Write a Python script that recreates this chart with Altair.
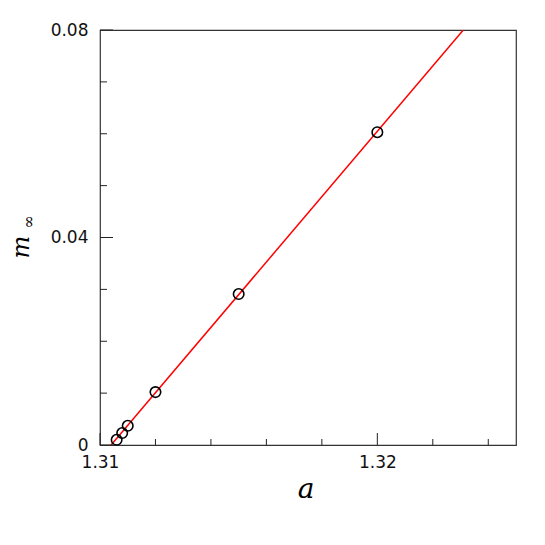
import altair as alt
import pandas as pd

# data
a_pts = [1.3106, 1.3108, 1.3110, 1.3120, 1.3150, 1.3200]
m_pts = [0.0010, 0.0023, 0.0037, 0.0102, 0.0291, 0.0603]
fit_a = [1.3104, 1.3231]
fit_m = [0.0, 0.08]
x_major = [1.31, 1.32]
x_minor = [1.312, 1.314, 1.316, 1.318, 1.322, 1.324]
y_major = [0.0, 0.04, 0.08]
y_minor = [0.01, 0.02, 0.03, 0.05, 0.06, 0.07]

pts = pd.DataFrame({"a": a_pts, "m": m_pts})
fit = pd.DataFrame({"a": fit_a, "m": fit_m})

W, H = 416, 415
xs = alt.Scale(domain=[1.31, 1.325], nice=False, zero=False)
ys = alt.Scale(domain=[0, 0.08], nice=False)
FONT = "DejaVu Serif"
LFONT = "DejaVu Sans"

xaxis = alt.Axis(values=x_major, format=".2f", tickSize=0, domain=False, grid=False,
                 labelFont=LFONT, labelFontSize=17, labelPadding=9, labelColor="#111",
                 labelFlush=False, title=None)
yaxis = alt.Axis(values=y_major, labelExpr="datum.value == 0 ? '0' : format(datum.value, '.2f')",
                 tickSize=0, domain=False, grid=False, labelFont=LFONT, labelFontSize=17,
                 labelPadding=12, labelColor="#111", labelFlush=False, title=None)

line = alt.Chart(fit).mark_line(color="#ff0000", strokeWidth=1.5, clip=True).encode(
    x=alt.X("a:Q", scale=xs, axis=xaxis),
    y=alt.Y("m:Q", scale=ys, axis=yaxis),
)
points = alt.Chart(pts).mark_point(shape="circle", filled=False, color="black",
                                   size=110, strokeWidth=1.6, opacity=1).encode(
    x=alt.X("a:Q", scale=xs),
    y=alt.Y("m:Q", scale=ys),
)

def xticks(vals, length):
    return alt.Chart(pd.DataFrame({"a": vals})).mark_rule(color="#222", strokeWidth=1).encode(
        x=alt.X("a:Q", scale=xs), y=alt.value(H), y2=alt.value(H - length))

def yticks(vals, length):
    return alt.Chart(pd.DataFrame({"m": vals})).mark_rule(color="#222", strokeWidth=1).encode(
        y=alt.Y("m:Q", scale=ys), x=alt.value(0), x2=alt.value(length))

def label(txt, x, y, size, angle=0, italic=True):
    return alt.Chart(pd.DataFrame({"t": [txt]})).mark_text(
        font=FONT, fontSize=size, fontStyle="italic" if italic else "normal",
        angle=angle, align="center", baseline="middle", color="black").encode(
        text="t:N", x=alt.value(x), y=alt.value(y))

chart = alt.layer(
    line, points,
    xticks(x_major, 12), xticks(x_minor, 6),
    yticks(y_major, 13), yticks(y_minor, 7),
    label("a", 206, 460, 28),
    label("m", -78, 217, 24, angle=270),
    label("∞", -71, 192, 16, angle=270, italic=False),
).properties(
    width=W, height=H,
    autosize=alt.AutoSizeParams(type="none"),
    padding={"left": 92, "top": 22, "right": 21, "bottom": 90},
).configure_view(stroke="#333", strokeWidth=1.2)

chart.save("out.html", embed_options={"renderer": "svg", "actions": False})
